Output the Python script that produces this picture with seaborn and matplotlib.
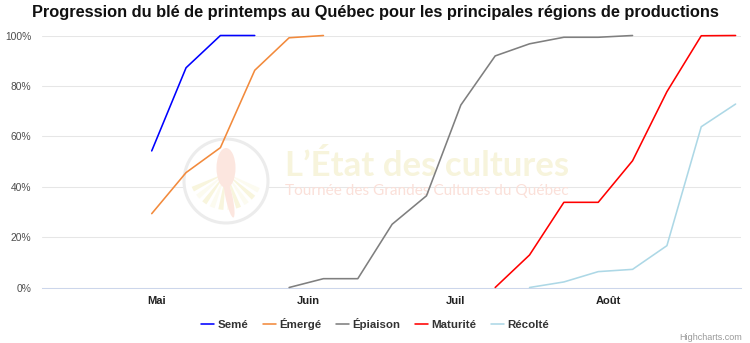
import matplotlib
matplotlib.use("Agg")
import matplotlib.pyplot as plt
from matplotlib.patches import Circle, Ellipse, Wedge
import seaborn as sns
import pandas as pd

# Weekly survey dates
week_dates = ["2019-04-30", "2019-05-07", "2019-05-14", "2019-05-21", "2019-05-28",
              "2019-06-04", "2019-06-11", "2019-06-18", "2019-06-25", "2019-07-02",
              "2019-07-09", "2019-07-16", "2019-07-23", "2019-07-30", "2019-08-06",
              "2019-08-13", "2019-08-20", "2019-08-27"]

stages = ["Semé", "Émergé", "Épiaison", "Maturité", "Récolté"]
stage_colors = ["#0000ff", "#f28a3c", "#7f7f7f", "#ff0000", "#add8e6"]

# Percentage of fields reaching each stage (first week index + values)
seme_start, seme = 0, [54.2, 87.2, 100, 100]
emerge_start, emerge = 0, [29.3, 45.6, 55.5, 86.2, 99.1, 100]
epiaison_start, epiaison = 4, [0, 3.5, 3.5, 25.1, 36.4, 72.4, 91.9, 96.7, 99.3, 99.3, 100]
maturite_start, maturite = 10, [0, 12.9, 33.8, 33.8, 50.3, 77.7, 99.9, 100]
recolte_start, recolte = 11, [0, 2.2, 6.3, 7.2, 16.6, 63.8, 72.8]

month_ticks = ["2019-05-01", "2019-06-01", "2019-07-01", "2019-08-01"]
month_labels = ["Mai", "Juin", "Juil", "Août"]
y_ticks = [0, 20, 40, 60, 80, 100]

title = "Progression du blé de printemps au Québec pour les principales régions de productions"

rows = []
for name, start, vals in zip(stages,
                             [seme_start, emerge_start, epiaison_start, maturite_start, recolte_start],
                             [seme, emerge, epiaison, maturite, recolte]):
    for i, v in enumerate(vals):
        rows.append({"Date": pd.Timestamp(week_dates[start + i]), "Stade": name, "Pct": v})
df = pd.DataFrame(rows)

sns.set_style("white")
plt.rcParams["font.family"] = ["Liberation Sans", "DejaVu Sans"]

W, H = 750, 343
fig = plt.figure(figsize=(W / 100, H / 100), dpi=100)
left, right, top, bottom = 42, 741, 35.5, 287.5
ax = fig.add_axes([left / W, 1 - bottom / H, (right - left) / W, (bottom - top) / H])

sns.lineplot(data=df, x="Date", y="Pct", hue="Stade", hue_order=stages,
             palette=dict(zip(stages, stage_colors)), linewidth=1.15,
             ax=ax, sort=False, estimator=None, zorder=3, clip_on=False)

# Axis ranges and ticks
t0 = pd.Timestamp(week_dates[0])
ax.set_xlim(t0 - pd.Timedelta(days=22.36), t0 + pd.Timedelta(days=120.1))
ax.set_ylim(0, 100)
ax.set_yticks(y_ticks)
ax.set_yticklabels([f"{v}%" for v in y_ticks])
ax.set_xticks([pd.Timestamp(d) for d in month_ticks])
ax.set_xticklabels(month_labels)
ax.set_xlabel("")
ax.set_ylabel("")

ax.yaxis.grid(True, color="#e6e6e6", linewidth=0.75, zorder=0)
ax.xaxis.grid(False)
ax.set_axisbelow(True)
for s in ["top", "right", "left"]:
    ax.spines[s].set_visible(False)
ax.spines["bottom"].set_color("#ccd6eb")
ax.spines["bottom"].set_linewidth(0.75)

ax.tick_params(axis="y", length=0, pad=7.5, labelsize=7.4, labelcolor="#4d4d4d")
ax.tick_params(axis="x", length=5.25, width=0.75, color="#ccd6eb", pad=1,
               labelsize=8, labelcolor="#222222")
for lab in ax.get_xticklabels():
    lab.set_fontweight("bold")

# Faint watermark logo behind the series
inch = fig.dpi_scale_trans
cx, cy, r = 2.26, (H - 181) / 100, 0.42
ax.add_patch(Circle((cx, cy), r, transform=inch, facecolor="white", edgecolor="#ececec",
                    linewidth=2.2, zorder=1, clip_on=False))
# field furrows in the lower half of the badge
for k, ang in enumerate(range(202, 338, 14)):
    col = "#f8f5dd" if k % 2 == 0 else "#fcfbf0"
    ax.add_patch(Wedge((cx, cy + 0.08), r * 0.88, ang, ang + 8, width=0.30, transform=inch,
                       facecolor=col, edgecolor="none", zorder=1.1, clip_on=False))
ax.add_patch(Ellipse((cx, cy + 0.13), 0.19, 0.40, transform=inch, facecolor="#fce6df",
                     edgecolor="none", zorder=1.2, clip_on=False))
ax.add_patch(Ellipse((cx + 0.03, cy - 0.16), 0.07, 0.42, angle=12, transform=inch,
                     facecolor="#fce6df", edgecolor="none", zorder=1.2, clip_on=False))
ax.text(285 / W, 1 - 166 / H, "L’État des cultures", ha="left", va="center",
        transform=fig.transFigure, fontsize=25, fontweight="bold", color="#f7f4dc",
        family=["Lato", "DejaVu Sans"], zorder=1.3, clip_on=False)
ax.text(285 / W, 1 - 190.5 / H, "Tournée des Grandes Cultures du Québec", ha="left",
        va="center", transform=fig.transFigure, fontsize=11.1, color="#fbe0d9",
        family=["Lato", "DejaVu Sans"], zorder=1.3, clip_on=False)

# Title, legend, credits
fig.text(0.5, 1 - 13 / H, title, ha="center", va="center", fontsize=11.8,
         fontweight="bold", color="#111111")

sns.move_legend(ax, "center", bbox_to_anchor=(0.5, 1 - 324 / H),
                bbox_transform=fig.transFigure, ncol=5, frameon=False, title=None,
                handlelength=1.1, handletextpad=0.3, columnspacing=1.3,
                prop={"weight": "bold", "size": 8.25})
for t in ax.get_legend().get_texts():
    t.set_color("#333333")

fig.text(742 / W, 1 - 337 / H, "Highcharts.com", ha="right", va="center",
         fontsize=6.5, color="#999999")

fig.savefig("out.png", dpi=100)
